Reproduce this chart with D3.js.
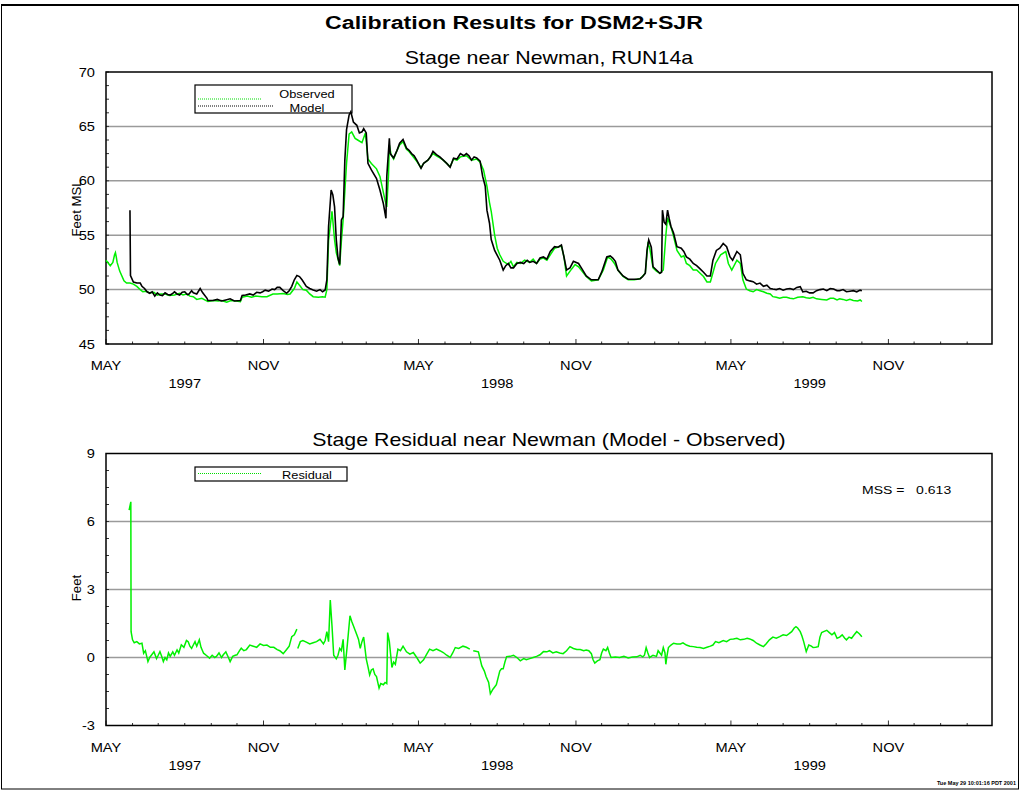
<!DOCTYPE html>
<html><head><meta charset="utf-8">
<script src="https://cdn.jsdelivr.net/npm/d3@7"></script>
<style>
html,body{margin:0;padding:0;background:#fff;}
svg{display:block;font-family:"Liberation Sans",Arial,sans-serif;}
</style></head>
<body><svg id="c" width="1025" height="793"></svg>
<script>
// ---- data (day = days since 1 May 1997, value in feet) ----
const title = "Calibration Results for DSM2+SJR";
const topTitle = "Stage near Newman, RUN14a";
const bottomTitle = "Stage Residual near Newman (Model - Observed)";
const monthLabels = ["MAY", "NOV"];
const yearLabels = ["1997", "1998", "1999"];
const stageTicks = [45, 50, 55, 60, 65, 70];
const residTicks = [-3, 0, 3, 6, 9];
const mssText = "MSS =   0.613";
const footer = "Tue May 29 10:01:16 PDT 2001";

const observed = [[0,52.7],[3,52.4],[5,52.2],[8,52.5],[10,53.2],[11,53.4],[12,53.0],[13,52.5],[16,51.7],[21,50.8],[24,50.6],[28,50.6],[32,50.5],[36,50.3],[40,50.0],[43,49.8],[47,49.85],[51,49.7],[56,49.75],[60,49.5],[64,49.6],[69,49.6],[74,49.45],[80,49.5],[86,49.65],[90,49.5],[94,49.6],[98,49.4],[102,49.35],[106,49.1],[112,49.2],[119,48.9],[126,49.0],[131,48.95],[135,49.0],[141,48.85],[146,49.0],[152,48.95],[157,48.9],[159,49.3],[165,49.4],[170,49.3],[175,49.4],[182,49.35],[188,49.35],[195,49.6],[200,49.6],[207,49.65],[212,49.55],[215,49.6],[220,50.1],[223,50.7],[227,50.3],[230,50.0],[234,49.95],[238,49.6],[242,49.35],[248,49.3],[253,49.35],[256,49.3],[258,50.0],[260,54.5],[264,57.2],[267,54.6],[269,53.4],[273,52.2],[275,54.5],[277,56.4],[281,61.6],[284,64.3],[287,64.5],[291,63.9],[294,63.75],[299,63.5],[303,64.4],[306,62.0],[310,61.6],[316,61.1],[320,60.4],[326,58.2],[328,57.6],[330,60.5],[331,63.3],[333,62.4],[336,62.0],[340,62.8],[343,63.3],[347,63.6],[351,62.9],[354,62.7],[357,62.4],[363,61.8],[368,61.2],[371,61.6],[376,61.9],[382,62.5],[386,62.3],[390,62.1],[394,61.9],[398,61.6],[402,61.3],[406,62.0],[410,61.9],[414,62.2],[421,62.3],[427,61.9],[433,62.0],[437,61.7],[441,61.0],[445,59.5],[448,58.0],[450,57.2],[454,55.0],[457,53.8],[460,53.2],[464,52.6],[470,52.3],[473,52.6],[476,52.1],[480,52.5],[484,52.4],[489,52.7],[495,52.5],[499,52.8],[503,52.4],[507,52.8],[511,52.9],[515,52.7],[519,53.2],[524,53.8],[532,54.0],[535,53.0],[538,51.25],[544,51.9],[548,52.3],[552,52.1],[556,51.7],[561,51.2],[567,50.8],[575,50.9],[581,51.8],[586,53.0],[590,52.8],[594,52.4],[598,51.8],[604,51.2],[610,50.9],[617,50.9],[624,51.0],[630,51.5],[633,54.2],[635,53.9],[639,52.0],[643,51.7],[647,51.5],[651,51.8],[654,55.0],[656,56.6],[661,55.5],[663,54.9],[667,53.6],[672,53.0],[675,53.1],[678,52.4],[682,52.2],[686,51.8],[690,51.8],[694,51.5],[698,51.2],[702,50.7],[706,50.7],[712,52.4],[718,53.2],[724,53.5],[727,52.4],[731,51.8],[737,52.7],[741,52.4],[744,50.9],[748,50.05],[752,49.9],[756,49.8],[760,50.0],[764,49.9],[768,49.8],[772,49.66],[776,49.6],[779,49.35],[783,49.3],[787,49.2],[791,49.3],[795,49.3],[799,49.2],[803,49.15],[808,49.3],[814,49.35],[818,49.25],[822,49.2],[826,49.3],[830,49.15],[836,49.1],[842,49.05],[846,49.2],[850,49.2],[854,49.05],[857,49.15],[861,49.1],[865,49.0],[869,49.1],[873,49.0],[878,48.95],[881,49.05],[883,48.9]];

const model = [[28,57.3],[28.6,51.3],[32,50.7],[36,50.6],[40,50.6],[42,50.3],[45,50.1],[48,49.8],[51,49.66],[54,49.8],[57,49.4],[60,49.7],[63,49.5],[66,49.45],[69,49.7],[72,49.55],[75,49.5],[78,49.65],[80,49.8],[83,49.6],[86,49.5],[89,49.75],[92,49.8],[95,49.55],[97,49.6],[100,49.9],[102,49.7],[106,49.6],[110,50.1],[113,49.7],[118,49.2],[119,49.0],[125,49.0],[130,49.1],[135,48.95],[140,49.05],[145,49.15],[150,48.95],[157,49.0],[159,49.45],[163,49.5],[168,49.6],[172,49.5],[176,49.75],[180,49.7],[183,49.8],[186,49.95],[190,49.85],[194,50.05],[197,50.0],[200,50.2],[203,50.2],[207,49.9],[211,49.66],[214,49.9],[217,50.3],[220,50.9],[223,51.3],[226,51.2],[229,50.9],[234,50.3],[238,50.1],[242,49.96],[246,49.85],[250,50.0],[253,49.8],[256,49.96],[258,50.9],[260,55.8],[263,59.15],[265,58.7],[267,57.6],[269,54.6],[271,52.9],[273,52.3],[275,56.4],[277,56.7],[279,61.9],[281,64.7],[284,66.05],[286,66.35],[289,65.4],[293,65.1],[296,64.4],[299,64.5],[301,64.8],[304,64.4],[306,61.6],[310,61.0],[316,60.2],[320,59.15],[324,57.9],[327,56.55],[328,60.4],[331,63.9],[332,62.5],[336,62.1],[340,62.8],[343,63.45],[347,63.8],[351,63.0],[354,62.8],[357,62.5],[360,62.3],[363,61.9],[368,61.15],[371,61.6],[376,61.9],[379,62.2],[382,62.7],[386,62.4],[390,62.2],[394,61.9],[398,61.6],[402,61.24],[406,62.07],[410,62.0],[414,62.5],[418,62.3],[421,62.5],[424,62.3],[427,61.9],[430,62.2],[433,62.1],[437,61.8],[440,60.4],[443,59.5],[445,57.3],[448,56.1],[450,54.6],[454,53.6],[460,52.7],[464,51.8],[467,52.2],[470,52.4],[473,52.0],[476,52.0],[480,52.4],[484,52.5],[488,52.4],[492,52.7],[495,52.5],[499,52.6],[503,52.4],[507,52.9],[511,53.0],[515,52.8],[519,53.5],[524,53.95],[528,53.9],[532,54.1],[535,53.0],[538,51.8],[542,52.0],[546,52.6],[552,52.4],[556,51.9],[561,51.25],[567,50.9],[571,50.9],[575,50.9],[579,51.6],[585,53.0],[589,53.1],[592,52.9],[595,52.6],[598,51.8],[604,51.25],[610,50.95],[616,50.95],[620,50.95],[624,51.0],[627,51.2],[630,51.5],[632,53.6],[634,54.56],[637,53.9],[639,52.1],[643,51.8],[647,51.5],[649,51.6],[650,57.3],[652,56.2],[654,56.0],[656,57.3],[658,56.5],[660,55.8],[663,55.2],[667,53.95],[672,53.8],[675,53.5],[678,53.0],[682,52.8],[686,52.4],[690,52.2],[694,51.9],[698,51.6],[702,51.25],[706,51.25],[709,52.7],[713,53.6],[717,53.8],[721,54.24],[725,53.95],[729,53.0],[732,52.7],[737,53.5],[741,53.2],[744,51.5],[748,50.9],[752,50.8],[756,50.73],[760,50.5],[764,50.6],[768,50.3],[772,50.4],[776,50.1],[779,50.05],[783,50.0],[787,50.1],[791,49.95],[795,50.05],[799,50.1],[803,50.0],[807,50.2],[811,50.27],[814,49.8],[818,49.85],[822,49.7],[826,49.7],[830,49.9],[834,50.0],[838,50.05],[842,49.9],[846,50.1],[850,50.05],[854,49.9],[857,49.9],[861,50.0],[865,49.8],[869,49.85],[873,49.9],[877,49.8],[881,49.95],[883,49.9]];

const residual = [[27,6.5],[29,6.87],[29.3,1.14],[31,0.78],[33,0.65],[36,0.7],[39,0.6],[42,0.63],[44,0.19],[46,0.3],[49,-0.18],[51,0.0],[53,0.1],[56,0.25],[59,-0.05],[61,0.1],[63,0.26],[65,0.05],[67,-0.18],[69,0.0],[71,-0.1],[73,0.2],[75,0.05],[78,0.25],[80,0.1],[83,0.34],[85,0.2],[88,0.56],[91,0.45],[94,0.75],[96,0.7],[98,0.5],[100,0.4],[102,0.55],[104,0.7],[106,0.5],[109,0.78],[111,0.45],[114,0.19],[117,0.1],[121,-0.03],[124,0.1],[127,0.0],[129,0.05],[132,0.2],[135,0.0],[137,0.12],[140,0.25],[143,0.0],[145,-0.18],[148,0.05],[151,0.1],[153,0.12],[156,0.3],[158,0.41],[161,0.3],[164,0.35],[168,0.55],[172,0.5],[176,0.45],[180,0.6],[184,0.53],[188,0.55],[192,0.45],[196,0.45],[200,0.35],[203,0.3],[207,0.17],[211,0.35],[214,0.5],[217,0.92],[220,1.0],[223,1.25],[223.5,null],[224,0.4],[227,0.7],[230,0.75],[234,0.68],[238,0.6],[242,0.65],[246,0.7],[250,0.8],[254,0.6],[256,0.75],[258,1.14],[260,0.7],[262,2.54],[264,1.4],[266,0.1],[269,-0.06],[271,0.1],[273,0.4],[275,0.3],[277,0.8],[279,-0.55],[282,0.6],[285,1.84],[287,1.6],[289,1.4],[291,1.2],[293,1.0],[295,0.8],[297,0.4],[299,0.7],[301,0.9],[304,-0.06],[306,-0.4],[308,-0.77],[310,-0.55],[312,-0.5],[314,-0.75],[316,-0.84],[319,-1.35],[321,-1.15],[324,-1.2],[326,-1.1],[328,-1.15],[329,1.1],[331,0.7],[334,-0.44],[336,-0.2],[338,-0.3],[341,0.37],[344,0.3],[347,0.5],[351,0.25],[355,0.15],[359,0.22],[363,0.0],[367,-0.25],[371,-0.1],[374,0.1],[378,0.37],[382,0.3],[386,0.37],[390,0.3],[394,0.22],[398,0.1],[402,0.0],[405,0.2],[408,0.44],[412,0.4],[417,0.5],[421,0.45],[425,0.37],[426,null],[429,0.3],[432,0.28],[435,0.25],[439,-0.37],[442,-0.6],[444,-0.84],[447,-1.1],[449,-1.6],[452,-1.4],[454,-1.3],[456,-1.2],[458,-0.9],[460,-0.6],[462,-0.5],[464,-0.5],[466,-0.2],[468,0.04],[472,0.05],[476,0.1],[480,0.0],[484,-0.15],[488,-0.05],[491,-0.1],[495,-0.05],[499,0.0],[503,0.05],[507,0.12],[511,0.26],[515,0.25],[518,0.3],[522,0.2],[526,0.25],[530,0.2],[534,0.17],[538,0.3],[542,0.48],[546,0.4],[550,0.35],[554,0.35],[558,0.3],[561,0.33],[564,0.3],[567,0.17],[569,-0.1],[571,-0.25],[574,-0.15],[577,-0.1],[579,0.2],[581,0.37],[584,0.3],[586,0.44],[588,0.2],[590,0.0],[595,0.02],[600,0.0],[605,0.05],[610,-0.02],[615,0.02],[620,0.03],[624,0.1],[627,0.03],[629,0.1],[631,0.44],[633,0.2],[635,0.0],[639,0.1],[643,0.05],[645,0.3],[647,0.2],[649,0.1],[651,0.44],[653,0.2],[654,-0.3],[655,0.0],[657,0.44],[660,0.55],[663,0.63],[667,0.6],[671,0.6],[674,0.65],[678,0.55],[682,0.5],[686,0.48],[690,0.45],[694,0.44],[698,0.4],[702,0.45],[706,0.5],[709,0.55],[712,0.7],[716,0.65],[721,0.75],[725,0.7],[729,0.8],[733,0.82],[737,0.85],[741,0.78],[745,0.8],[749,0.85],[752,0.82],[756,0.75],[760,0.63],[764,0.55],[768,0.48],[771,0.6],[775,0.78],[779,0.9],[783,0.85],[787,0.92],[791,1.0],[795,0.97],[798,1.05],[801,1.14],[804,1.3],[806,1.36],[808,1.3],[811,1.14],[813,0.95],[815,0.7],[818,0.26],[821,0.55],[824,0.5],[826,0.44],[829,0.45],[832,0.48],[834,0.9],[836,1.1],[839,1.15],[842,1.2],[845,1.1],[848,1.0],[851,1.1],[854,0.85],[857,0.9],[860,1.0],[863,0.85],[865,0.78],[868,0.9],[871,0.85],[874,1.0],[877,1.14],[880,1.05],[883,0.92]];

// ---- drawing ----
const svg = d3.select("#c");
const SX = 1.22; // horizontal stretch of the original's lettering
function txt(x, y, str, size, anchor, weight) {
  return svg.append("text").attr("transform", `translate(${x},${y}) scale(${SX},1)`)
    .attr("text-anchor", anchor || "start").attr("font-size", size)
    .attr("font-weight", weight || "normal").text(str);
}
const t0 = Date.UTC(1997, 4, 1);
const toDate = d => new Date(t0 + d * 86400000);
const x = d3.scaleUtc().domain([new Date(Date.UTC(1997,4,1)), new Date(Date.UTC(2000,2,1))]).range([106, 992]);

// page frame
svg.append("rect").attr("x", 1.5).attr("y", 5).attr("width", 1017).attr("height", 784)
  .attr("fill", "none").attr("stroke", "#000").attr("stroke-width", 1);
svg.append("line").attr("x1", 1).attr("x2", 1019).attr("y1", 5).attr("y2", 5).attr("stroke", "#000").attr("stroke-width", 2);

txt(514, 29, title, 19, "middle", "bold");

function panel(opt) {
  const y = d3.scaleLinear().domain(opt.domain).range([opt.bottom, opt.top]);
  const g = svg.append("g");
  txt(549, opt.top - 8, opt.title, 17.5, "middle");
  opt.ticks.slice(1, -1).forEach(v => {
    g.append("line").attr("x1", 106).attr("x2", 992).attr("y1", y(v)).attr("y2", y(v))
      .attr("stroke", "#9a9a9a").attr("stroke-width", 1.5);
  });
  const step = (opt.ticks[1] - opt.ticks[0]) / 4;
  for (let v = opt.domain[0]; v <= opt.domain[1] + 1e-9; v += step) {
    g.append("line").attr("x1", 106).attr("x2", 109).attr("y1", y(v)).attr("y2", y(v))
      .attr("stroke", "#333").attr("stroke-width", 1);
  }
  opt.ticks.forEach(v => txt(95, y(v) + 4.5, String(v), 12, "end"));
  const months = d3.utcMonth.range(x.domain()[0], x.domain()[1]);
  months.forEach(m => {
    const major = m.getUTCMonth() === 4 || m.getUTCMonth() === 10;
    g.append("line").attr("x1", x(m)).attr("x2", x(m)).attr("y1", opt.bottom).attr("y2", opt.bottom - (major ? 5 : 2.5))
      .attr("stroke", "#333").attr("stroke-width", 1);
    if (major) txt(x(m), opt.bottom + 26, m.getUTCMonth() === 4 ? monthLabels[0] : monthLabels[1], 12, "middle");
  });
  yearLabels.forEach((yl, i) => {
    const mid = new Date(Date.UTC(1997 + i, 7, 1));
    txt(x(mid), opt.bottom + 44, yl, 12, "middle");
  });
  g.append("rect").attr("x", 106).attr("y", opt.top).attr("width", 886).attr("height", opt.bottom - opt.top)
    .attr("fill", "none").attr("stroke", "#000").attr("stroke-width", 1.5);
  svg.append("text").attr("transform", `translate(${opt.ylx},${opt.yly}) rotate(-90) scale(1.1,1.1)`)
    .attr("text-anchor", "middle").attr("font-size", 12).text(opt.ylabel);
  const line = d3.line().defined(d => d[1] !== null).x(d => x(toDate(d[0]))).y(d => y(d[1]));
  opt.series.forEach(s => {
    svg.append("path").datum(s.data).attr("d", line).attr("fill", "none")
      .attr("stroke", s.color).attr("stroke-width", s.w).attr("stroke-linejoin", "miter");
  });
  return {g, y};
}

panel({domain: [45, 70], ticks: stageTicks, top: 72, bottom: 344, title: topTitle,
  ylabel: "Feet MSL", ylx: 81, yly: 208,
  series: [{data: observed, color: "#00f000", w: 1.5}, {data: model, color: "#000", w: 1.6}]});

panel({domain: [-3, 9], ticks: residTicks, top: 453.5, bottom: 725.5, title: bottomTitle,
  ylabel: "Feet", ylx: 81, yly: 588,
  series: [{data: residual, color: "#00f000", w: 1.5}]});

function legend(x0, y0, w, h, items) {
  svg.append("rect").attr("x", x0).attr("y", y0).attr("width", w).attr("height", h)
    .attr("fill", "none").attr("stroke", "#000").attr("stroke-width", 1.2);
  items.forEach(it => {
    svg.append("line").attr("x1", x0 + 3).attr("x2", x0 + it.len).attr("y1", it.ly).attr("y2", it.ly)
      .attr("stroke", it.color).attr("stroke-width", 1).attr("stroke-dasharray", "1,1");
    txt(x0 + 112, it.ty, it.label, 10.5, "middle");
  });
}
legend(195, 85, 157, 28, [{label: "Observed", color: "#00dd00", ly: 99, ty: 98, len: 67},
                          {label: "Model", color: "#000", ly: 106, ty: 111.5, len: 78}]);
legend(195, 467, 152, 14, [{label: "Residual", color: "#00dd00", ly: 473.5, ty: 478.5, len: 67}]);

txt(862, 493.5, mssText, 11.5, "start").attr("xml:space", "preserve").style("white-space", "pre");
svg.append("text").attr("x", 1016).attr("y", 785).attr("text-anchor", "end").attr("font-size", 5.5)
  .attr("font-weight", "bold").text(footer);
</script></body></html>
